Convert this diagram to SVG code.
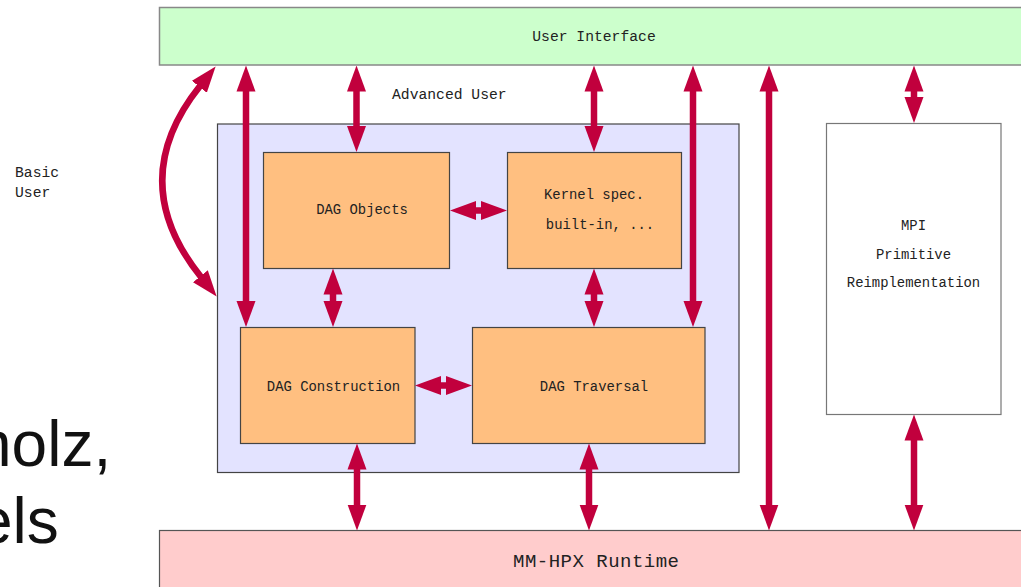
<svg xmlns="http://www.w3.org/2000/svg" width="1021" height="587" viewBox="0 0 1021 587">
<style>
.mono{font-family:"Liberation Mono","DejaVu Sans Mono",monospace;fill:#222}
.lbl{font-size:14.7px}
.nt{font-size:13.9px;text-anchor:middle}
.box{stroke:#444;stroke-width:1.2}
.arr{stroke:#c1003d;stroke-width:6.5;fill:none;marker-start:url(#ah);marker-end:url(#ah)}
.bg{font-family:"Liberation Sans",Arial,sans-serif;font-size:64px;fill:#111}
</style>
<defs>
<marker id="ah" markerUnits="userSpaceOnUse" viewBox="-1 -10 26 20" refX="0" refY="0" markerWidth="26" markerHeight="20" orient="auto-start-reverse">
<path d="M-1,-9.5 L25,0 L-1,9.5 z" fill="#c1003d"/>
</marker>
</defs>
<rect width="1021" height="587" fill="#fff"/>
<g id="bgtext">
<text class="bg" x="-24" y="466">holz,</text>
<text class="bg" x="-23" y="543">els</text>
</g>
<g id="user-interface">
<rect x="159.5" y="7.5" width="870" height="57.5" fill="#ccffcc" stroke="#888" stroke-width="1.5"/>
<text class="mono lbl" x="594" y="41" text-anchor="middle">User Interface</text>
</g>
<g id="runtime">
<rect x="159.5" y="530.5" width="870" height="70" fill="#ffcccc" stroke="#555" stroke-width="1.2"/>
<text class="mono" x="596" y="567" font-size="19" text-anchor="middle" textLength="166">MM-HPX Runtime</text>
</g>
<g id="basic-user">
<text class="mono lbl" x="15" y="177">Basic</text>
<text class="mono lbl" x="15" y="197">User</text>
</g>
<g id="advanced-user">
<rect class="box" x="217.5" y="124" width="521.5" height="348.5" fill="#e3e3ff"/>
<text class="mono lbl" x="392" y="99">Advanced User</text>
</g>
<g id="dag-objects">
<rect class="box" x="263.5" y="152.5" width="186" height="116" fill="#ffbf80"/>
<text class="mono nt" x="362" y="214">DAG Objects</text>
</g>
<g id="kernel-spec">
<rect class="box" x="507.5" y="152.5" width="174" height="116" fill="#ffbf80"/>
<text class="mono nt" x="594" y="199">Kernel spec.</text>
<text class="mono nt" x="600" y="229">built-in, ...</text>
</g>
<g id="dag-construction">
<rect class="box" x="240.5" y="327.5" width="174.5" height="116" fill="#ffbf80"/>
<text class="mono nt" x="333.5" y="391">DAG Construction</text>
</g>
<g id="dag-traversal">
<rect class="box" x="472.5" y="327.5" width="232.5" height="116" fill="#ffbf80"/>
<text class="mono nt" x="594" y="391">DAG Traversal</text>
</g>
<g id="mpi">
<rect x="826.5" y="123.5" width="174.5" height="291" fill="#fff" stroke="#777" stroke-width="1.2"/>
<text class="mono nt" x="913.5" y="230">MPI</text>
<text class="mono nt" x="913.5" y="259">Primitive</text>
<text class="mono nt" x="913.5" y="287">Reimplementation</text>
</g>
<g id="connectors">
<path class="arr" d="M200,86 Q124,181 201,277" stroke-width="7.5"/>
<line class="arr" x1="246" y1="90.5" x2="246" y2="302"/>
<line class="arr" x1="356.5" y1="90.5" x2="356.5" y2="127"/>
<line class="arr" x1="594" y1="90.5" x2="594" y2="127"/>
<line class="arr" x1="693" y1="90.5" x2="693" y2="302"/>
<line class="arr" x1="769" y1="90.5" x2="769" y2="505.5"/>
<line class="arr" x1="914" y1="90.5" x2="914" y2="98"/>
<line class="arr" x1="333" y1="293.5" x2="333" y2="302"/>
<line class="arr" x1="594" y1="293.5" x2="594" y2="302"/>
<line class="arr" x1="475" y1="210.5" x2="482" y2="210.5"/>
<line class="arr" x1="440" y1="385.5" x2="447" y2="385.5"/>
<line class="arr" x1="357" y1="468.5" x2="357" y2="505.5"/>
<line class="arr" x1="589" y1="468.5" x2="589" y2="505.5"/>
<line class="arr" x1="914" y1="439.5" x2="914" y2="505.5"/>
</g>
</svg>
